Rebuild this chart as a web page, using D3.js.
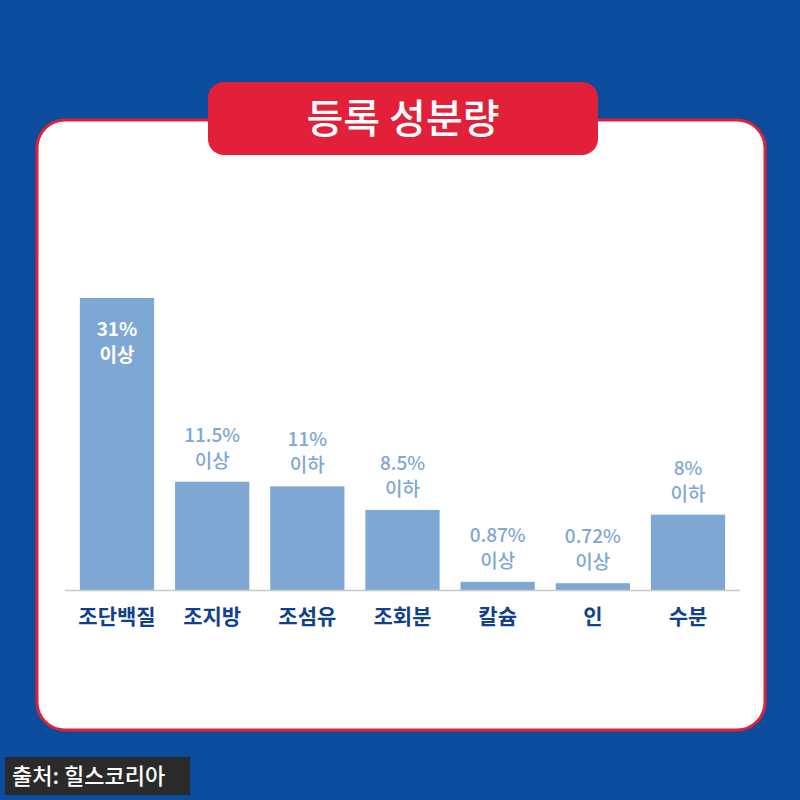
<!DOCTYPE html>
<html><head><meta charset="utf-8">
<script src="https://cdn.jsdelivr.net/npm/d3@7"></script>
<style>body{margin:0;background:#0b4c9c}</style></head>
<body><svg id="c" width="800" height="800"></svg>
<script>
const categories = ["조단백질","조지방","조섬유","조회분","칼슘","인","수분"];
const values = [31, 11.5, 11, 8.5, 0.87, 0.72, 8];
const valueLabels = ["31%","11.5%","11%","8.5%","0.87%","0.72%","8%"];
const qualifiers = ["이상","이상","이하","이하","이상","이상","이하"];

const svg = d3.select("#c");
const F = "'Noto Sans CJK KR', 'Noto Sans', sans-serif";
svg.append("rect").attr("width",800).attr("height",800).attr("fill","#0b4c9c");
svg.append("rect").attr("x",37).attr("y",120).attr("width",728).attr("height",610).attr("rx",28)
  .attr("fill","#fff").attr("stroke","#e2203a").attr("stroke-width",3);
svg.append("rect").attr("x",208).attr("y",82).attr("width",390).attr("height",73).attr("rx",16).attr("fill","#e2203a");
svg.append("text").attr("x",403).attr("y",133).attr("text-anchor","middle").attr("fill","#fff")
  .attr("font-family",F).attr("font-size",40).attr("font-weight",500).text("등록 성분량");

const x = d3.scaleBand().domain(categories).range([69.4,735.6]).paddingInner(0.22).paddingOuter(0.11);
const y = d3.scaleLinear().domain([0,31]).range([590,298]);

svg.append("g").selectAll("rect").data(values).join("rect")
  .attr("x",(d,i)=>x(categories[i])).attr("y",d=>y(d)).attr("width",x.bandwidth())
  .attr("height",d=>590-y(d)).attr("fill","#7ea8d3");
svg.append("line").attr("x1",65).attr("x2",740).attr("y1",590.5).attr("y2",590.5).attr("stroke","#c8c8c8").attr("stroke-width",1.5);

const g = svg.append("g").attr("font-family",F).attr("text-anchor","middle");
values.forEach((v,i)=>{
  const cx = x(categories[i])+x.bandwidth()/2;
  const inside = i===0;
  const top = inside ? y(v)+38 : y(v)-40;
  const col = inside ? "#fff" : "#7ea8d3";
  g.append("text").attr("x",cx).attr("y",top).attr("fill",col).attr("font-size",19).attr("font-weight",inside?700:500).text(valueLabels[i]);
  g.append("text").attr("x",cx).attr("y",top+26).attr("fill",col).attr("font-size",19).attr("font-weight",inside?700:500).text(qualifiers[i]);
  g.append("text").attr("x",cx).attr("y",624).attr("fill","#10418a").attr("font-size",21).attr("font-weight",700).text(categories[i]);
});

svg.append("rect").attr("x",5).attr("y",757).attr("width",185).attr("height",38).attr("fill","#2a2a2a");
svg.append("text").attr("x",12).attr("y",784).attr("fill","#fff").attr("font-family",F).attr("font-size",22).attr("font-weight",500).text("출처: 힐스코리아");
</script></body></html>
